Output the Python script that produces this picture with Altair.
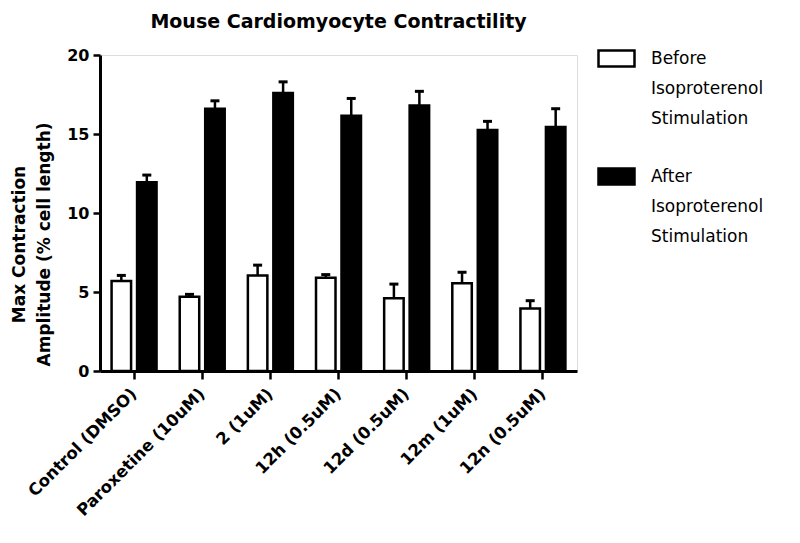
import altair as alt
import pandas as pd

conditions = ["Control (DMSO)", "Paroxetine (10uM)", "2 (1uM)", "12h (0.5uM)",
              "12d (0.5uM)", "12m (1uM)", "12n (0.5uM)"]
groups = ["Before Isoproterenol Stimulation", "After Isoproterenol Stimulation"]
before = [5.7, 4.7, 6.05, 5.9, 4.6, 5.55, 3.95]
before_err = [0.35, 0.15, 0.65, 0.2, 0.9, 0.7, 0.5]
after = [11.95, 16.6, 17.6, 16.15, 16.8, 15.25, 15.45]
after_err = [0.45, 0.5, 0.7, 1.1, 0.9, 0.55, 1.15]

rows = []
for i, c in enumerate(conditions):
    rows.append({"cond": c, "grp": groups[0], "val": before[i], "top": before[i] + before_err[i]})
    rows.append({"cond": c, "grp": groups[1], "val": after[i], "top": after[i] + after_err[i]})
df = pd.DataFrame(rows)

FONT = "DejaVu Sans"

x_enc = alt.X("cond:N", sort=conditions,
              scale=alt.Scale(paddingInner=0.34, paddingOuter=0.17),
              axis=alt.Axis(title=None, labelAngle=-45, labelAlign="right",
                            labelBaseline="middle", labelPadding=12,
                            labelFont=FONT, labelFontWeight="bold", labelFontSize=16.5,
                            labelColor="black", tickSize=8, tickWidth=2.5,
                            tickColor="black", domainWidth=3, domainColor="black",
                            labelLimit=300))
xo_enc = alt.XOffset("grp:N", sort=groups,
                     scale=alt.Scale(paddingInner=0.235, paddingOuter=0))
y_enc = alt.Y("val:Q", scale=alt.Scale(domain=[0, 20], nice=False),
              axis=alt.Axis(values=[0, 5, 10, 15, 20], grid=False,
                            title=["Max Contraction", "Amplitude (% cell length)"],
                            titleFont=FONT, titleFontWeight="bold", titleFontSize=17,
                            titleColor="black", titleLineHeight=25,
                            titleX=-81, titleY=189, titleAngle=270,
                            titleAlign="center", titleBaseline="middle",
                            labelFont=FONT, labelFontWeight="bold", labelFontSize=16,
                            labelColor="black", labelPadding=4,
                            tickSize=7, tickWidth=2.5, tickColor="black",
                            domainWidth=3, domainColor="black"))

bars = alt.Chart(df).mark_bar(stroke="black", strokeWidth=2.5).encode(
    x=x_enc, xOffset=xo_enc, y=y_enc,
    fill=alt.Fill("grp:N", sort=groups,
                  scale=alt.Scale(domain=groups, range=["white", "black"]),
                  legend=alt.Legend(title=None, orient="none", legendX=497, legendY=-16,
                                    symbolType="M-1,-0.45H1V0.45H-1Z", symbolSize=1296,
                                    symbolStrokeColor="black", symbolStrokeWidth=2.5,
                                    labelFont=FONT, labelFontSize=17, labelColor="black",
                                    labelOffset=15, rowPadding=30, labelLimit=400,
                                    padding=0,
                                    labelExpr="split(datum.label, ' ')"))
)

err = alt.Chart(df).mark_rule(color="black", strokeWidth=2.5).encode(
    x=alt.X("cond:N", sort=conditions), xOffset=alt.XOffset("grp:N", sort=groups),
    y="val:Q", y2="top:Q")

cap = alt.Chart(df).mark_tick(color="black", thickness=3, size=9, opacity=1).encode(
    x=alt.X("cond:N", sort=conditions), xOffset=alt.XOffset("grp:N", sort=groups),
    y="top:Q")

chart = alt.layer(err, cap, bars).properties(
    width=477, height=316,
    title=alt.TitleParams("Mouse Cardiomyocyte Contractility", font=FONT,
                          fontWeight="bold", fontSize=19, color="black",
                          frame="group", baseline="alphabetic", offset=-8,
                          anchor="middle"),
    autosize=alt.AutoSizeParams(type="none"),
    padding={"left": 92, "top": 47, "right": 215, "bottom": 164},
).configure_view(stroke=None).configure(
    style={"guide-label": {"lineHeight": 30}}
)

chart.save("out.html", embed_options={"renderer": "svg", "actions": False})
